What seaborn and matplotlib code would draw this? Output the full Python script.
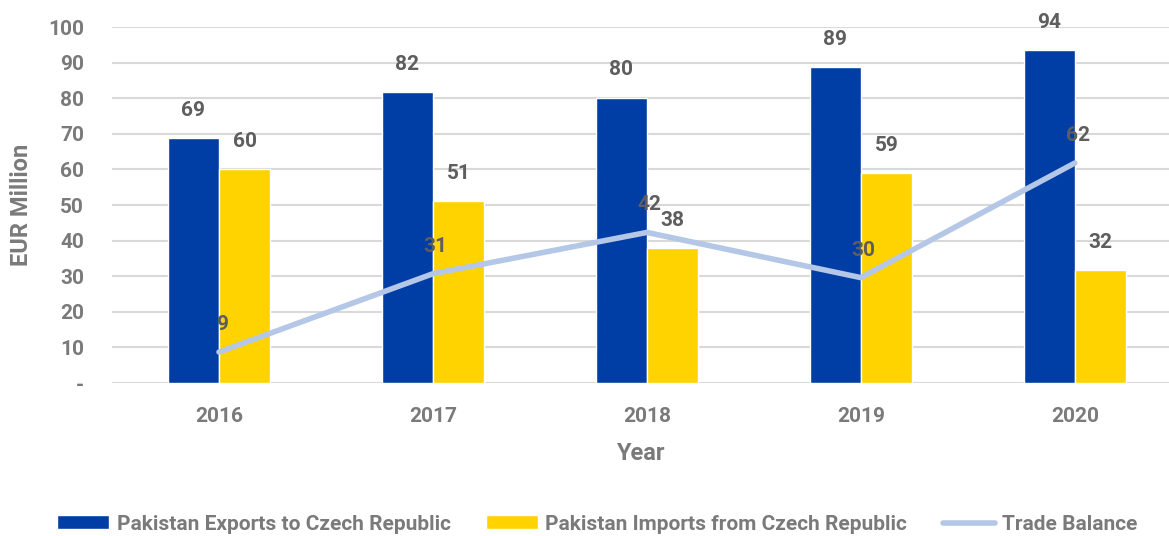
import pandas as pd
import seaborn as sns
import matplotlib.pyplot as plt
import numpy as np
from matplotlib.patches import Patch
from matplotlib.lines import Line2D

# data
years = ['2016', '2017', '2018', '2019', '2020']
exports = [68.8, 81.7, 80.2, 88.7, 93.6]
imports = [60.1, 51.0, 37.9, 59.1, 31.8]
balance = [8.7, 30.7, 42.3, 29.6, 61.8]

exp_name = 'Pakistan Exports to Czech Republic'
imp_name = 'Pakistan Imports from Czech Republic'
bal_name = 'Trade Balance'

df = pd.DataFrame({'Year': years * 2,
                   'value': exports + imports,
                   'series': [exp_name] * 5 + [imp_name] * 5})

blue = '#003DA5'
yellow = '#FFD300'
light = '#B4C7E7'
grey = '#7A7A7A'
dark = '#5E5E5E'

sns.set_style('white')
plt.rcParams['font.family'] = ['Roboto', 'DejaVu Sans']

fig = plt.figure(figsize=(11.69, 5.36), dpi=100)
ax = fig.add_axes([0.0958, 0.2854, 0.9042, 0.6642])

sns.barplot(data=df, x='Year', y='value', hue='series', ax=ax,
            palette=[blue, yellow], width=0.48, gap=0, saturation=1,
            legend=False, zorder=2)

sns.lineplot(x=np.arange(len(years)), y=balance, ax=ax, color=light,
             linewidth=4, solid_capstyle='round', zorder=3)

for cont in ax.containers:
    ax.bar_label(cont, fmt='%.0f', padding=13, fontsize=15,
                 fontweight='bold', color=dark)

for i, v in enumerate(balance):
    ax.annotate(f'{v:.0f}', (i, v), xytext=(2, 13), textcoords='offset points',
                ha='center', va='bottom', fontsize=15, fontweight='bold',
                color=dark, zorder=4)

ax.set_ylim(0, 100)
ax.set_xlim(-0.5, 4.44)
ax.set_yticks(range(0, 101, 10))
ax.set_yticklabels(['-'] + [str(t) for t in range(10, 101, 10)])
ax.yaxis.grid(True, color='#D9D9D9', linewidth=1.5, zorder=0)
ax.set_axisbelow(True)
for s in ax.spines.values():
    s.set_visible(False)
ax.tick_params(axis='both', length=0, labelsize=15, labelcolor=grey)
ax.tick_params(axis='y', pad=20)
ax.tick_params(axis='x', pad=17)
for lab in ax.get_xticklabels() + ax.get_yticklabels():
    lab.set_fontweight('bold')

ax.set_xlabel('Year', fontsize=17, fontweight='bold', color=grey, labelpad=12)
ax.set_ylabel('EUR Million', fontsize=17, fontweight='bold', color=grey)
ax.yaxis.set_label_coords(-0.075, 0.5)

handles = [Patch(facecolor=blue), Patch(facecolor=yellow),
           Line2D([0], [0], color=light, linewidth=4, solid_capstyle='round')]
leg = fig.legend(handles, [exp_name, imp_name, bal_name], loc='center',
                 bbox_to_anchor=(0.511, 0.022), ncol=3, frameon=False,
                 handlelength=2.5, handleheight=0.65, handletextpad=0.35,
                 columnspacing=1.7, prop={'size': 15, 'weight': 'bold'})
for t in leg.get_texts():
    t.set_color(grey)

fig.savefig('out.png', dpi=100)
